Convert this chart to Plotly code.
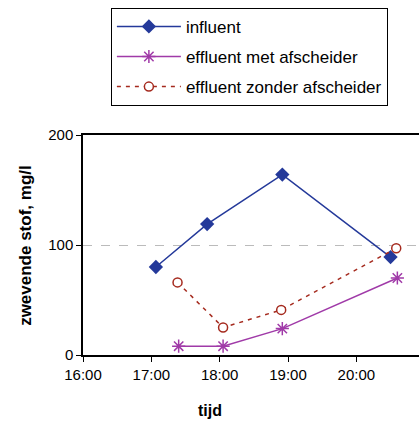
import plotly.graph_objects as go

# Measurement times (same evening) and suspended-solids concentrations, mg/l
influent_t = ["2000-01-01 17:04", "2000-01-01 17:49", "2000-01-01 18:55", "2000-01-01 20:30"]
influent_v = [80, 119, 164, 89]

met_t = ["2000-01-01 17:24", "2000-01-01 18:03", "2000-01-01 18:55", "2000-01-01 20:36"]
met_v = [8, 8, 24, 70]

zonder_t = ["2000-01-01 17:23", "2000-01-01 18:03", "2000-01-01 18:54", "2000-01-01 20:35"]
zonder_v = [66, 25, 41, 97]

series_names = ["influent", "effluent met afscheider", "effluent zonder afscheider"]

FONT = "Liberation Sans, Arial, sans-serif"

fig = go.Figure()
fig.add_trace(go.Scatter(
    x=influent_t, y=influent_v, name=series_names[0], legendgroup="a",
    mode="lines+markers",
    line=dict(color="#24399a", width=1.5),
    marker=dict(symbol="diamond", size=11, color="#24399a"),
))
fig.add_trace(go.Scatter(
    x=met_t, y=met_v, name=series_names[1], legendgroup="b",
    mode="lines+markers",
    line=dict(color="#a03aa8", width=1.5),
    marker=dict(symbol="asterisk-open", size=11, color="#a03aa8",
                line=dict(color="#a03aa8", width=1.5)),
))
fig.add_trace(go.Scatter(
    x=zonder_t, y=zonder_v, name=series_names[2], legendgroup="c",
    mode="lines+markers",
    line=dict(color="#a52a1e", width=1.5, dash="4px,5px"),
    marker=dict(symbol="circle", size=9, color="white",
                line=dict(color="#a52a1e", width=1.5)),
))

fig.update_layout(
    width=419, height=423,
    margin=dict(l=83, r=0, t=135, b=68),
    paper_bgcolor="white", plot_bgcolor="white",
    font=dict(family=FONT, size=14, color="black"),
    showlegend=True,
    legend=dict(
        x=0.083, y=1.578, xanchor="left", yanchor="top",
        bordercolor="black", borderwidth=1, bgcolor="white",
        font=dict(size=17), tracegroupgap=5, itemwidth=64,
    ),
    xaxis=dict(
        type="date",
        range=["2000-01-01 16:00", "2000-01-01 20:55"],
        tickformat="%H:%M", dtick=3600000,
        tick0="2000-01-01 16:00",
        showgrid=False, zeroline=False,
        showline=True, linecolor="black", linewidth=1.5, mirror=True,
        ticks="outside", ticklen=5, tickcolor="black",
        tickfont=dict(size=15),
    ),
    yaxis=dict(
        range=[0, 200], dtick=100,
        showgrid=True, gridcolor="#bbbbbb", griddash="dash", gridwidth=1,
        zeroline=False,
        showline=True, linecolor="black", linewidth=1.5,
        ticks="outside", ticklen=5, tickcolor="black",
        tickfont=dict(size=15),
    ),
    annotations=[
        dict(text="<b>tijd</b>", xref="paper", yref="paper",
             x=0.378, y=-0.25, xanchor="center", yanchor="middle",
             showarrow=False, font=dict(size=16)),
        dict(text="<b>zwevende stof, mg/l</b>", xref="paper", yref="paper",
             x=-0.173, y=0.5, xanchor="center", yanchor="middle",
             textangle=-90, showarrow=False, font=dict(size=17)),
    ],
)

fig.write_html("out.html")
